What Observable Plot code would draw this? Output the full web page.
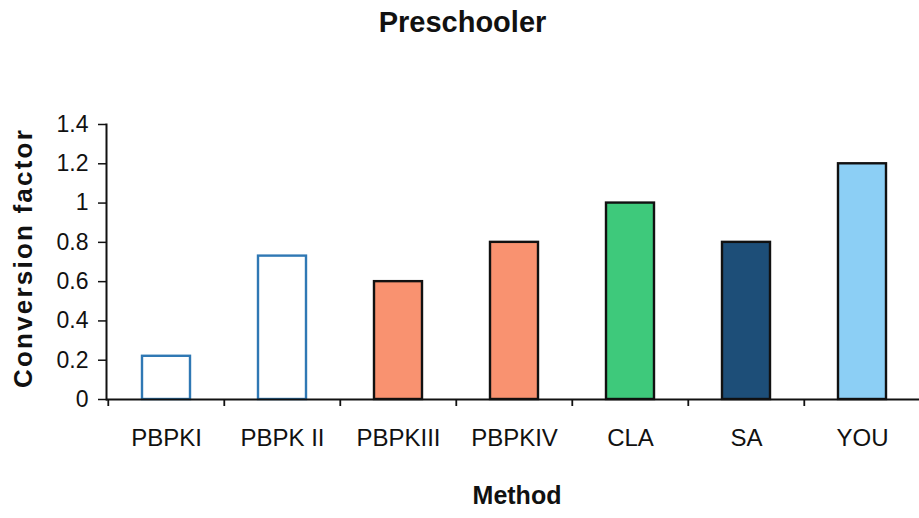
<!DOCTYPE html>
<html>
<head>
<meta charset="utf-8">
<script src="https://cdn.jsdelivr.net/npm/d3@7"></script>
<script src="https://cdn.jsdelivr.net/npm/@observablehq/plot@0.6"></script>
<style>
  html, body { margin: 0; padding: 0; background: #fff; }
  #wrap { width: 919px; height: 518px; position: relative; overflow: hidden; font-family: "Liberation Sans", Arial, sans-serif; }
  #title { position: absolute; left: 0; top: 4px; width: 925px; text-align: center; font-weight: bold; font-size: 29px; line-height: 36px; color: #111; }
  #chart { position: absolute; left: 0; top: 0; }
</style>
</head>
<body>
<div id="wrap">
  <div id="chart"></div>
  <div id="title">Preschooler</div>
</div>
<script>
const methods = ["PBPKI", "PBPK II", "PBPKIII", "PBPKIV", "CLA", "SA", "YOU"];
const factors = [0.22, 0.73, 0.60, 0.80, 1.00, 0.80, 1.20];
const fills = ["#ffffff", "#ffffff", "#f99270", "#f99270", "#3ec97b", "#1d4e78", "#8ccff5"];
const strokes = ["#2f78b4", "#2f78b4", "#111111", "#111111", "#111111", "#111111", "#111111"];
const yTicks = [0, 0.2, 0.4, 0.6, 0.8, 1, 1.2, 1.4];

const data = methods.map((m, i) => ({method: m, value: factors[i], fill: fills[i], stroke: strokes[i]}));

const W = 919, H = 518;
const mL = 106, mR = -2, mT = 124, mB = 119;
const step = (W - mL - mR) / methods.length;

const chart = Plot.plot({
  width: W,
  height: H,
  marginLeft: mL,
  marginRight: mR,
  marginTop: mT,
  marginBottom: mB,
  style: {fontFamily: "'Liberation Sans', Arial, sans-serif", fontSize: "24px", color: "#111", background: "transparent", overflow: "visible"},
  x: {domain: methods, paddingInner: 0.59, paddingOuter: 0.295, label: null},
  y: {domain: [0, 1.4], label: null},
  marks: [
    Plot.barY(data, {x: "method", y: "value", fill: "fill", stroke: "stroke", strokeWidth: 2.4}),
    Plot.ruleY([0], {stroke: "#111", strokeWidth: 2}),
    Plot.frame({anchor: "left", stroke: "#111", strokeWidth: 2}),
    Plot.axisY(yTicks, {tickSize: 8, tickPadding: 10, fontSize: 23, tickFormat: d => String(d), stroke: "#111", strokeWidth: 1.5, label: null}),
    Plot.axisX({tickSize: 0, tickPadding: 29, fontSize: 24, label: null}),
    Plot.ruleX(methods, {x: d => d, y1: 0, y2: 0, insetBottom: -7, dx: -step / 2, stroke: "#111", strokeWidth: 1.8}),
    Plot.text(["Conversion factor"], {frameAnchor: "left", textAnchor: "middle", dx: -83, dy: -4, rotate: -90, fontSize: 26, fontWeight: "bold", fill: "#111"}),
    Plot.text(["Method"], {frameAnchor: "bottom", dy: 104, dx: 3, fontSize: 25, fontWeight: "bold", fill: "#111"})
  ]
});
chart.querySelectorAll("text").forEach(t => {
  if (t.textContent === "Conversion factor") t.style.letterSpacing = "2.2px";
});
document.getElementById("chart").appendChild(chart);
</script>
</body>
</html>
